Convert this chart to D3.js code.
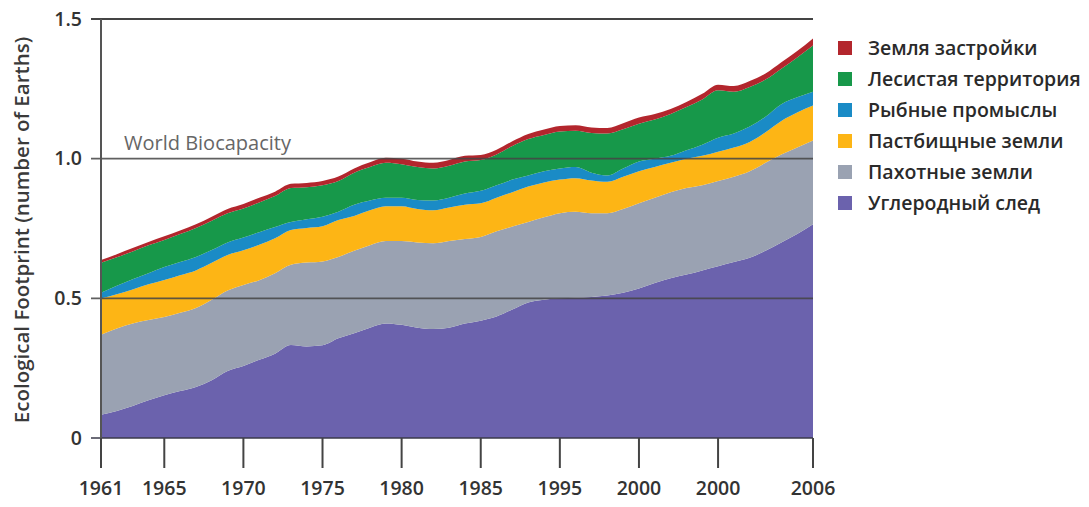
<!DOCTYPE html>
<html>
<head>
<meta charset="utf-8">
<script src="https://cdn.jsdelivr.net/npm/d3@7/dist/d3.min.js"></script>
<style>
  html, body { margin: 0; padding: 0; background: #fff; }
  svg { display: block; }
  text { font-family: "Open Sans", "Noto Sans", sans-serif; }
</style>
</head>
<body>
<svg id="chart" width="1089" height="507"></svg>
<script>
const years = [1961,1962,1963,1964,1965,1966,1967,1968,1969,1970,
               1971,1972,1973,1974,1975,1976,1977,1978,1979,1980,
               1981,1982,1983,1984,1985,1986,1987,1988,1989,1990,
               1991,1992,1993,1994,1995,1996,1997,1998,1999,2000,
               2001,2002,2003,2004,2005,2006];

const carbon = [.083,.097,.115,.135,.153,.168,.183,.207,.240,.258,
                .280,.302,.333,.328,.332,.357,.375,.395,.410,.405,
                .395,.390,.395,.410,.420,.435,.460,.485,.495,.500,
                .502,.505,.510,.520,.535,.555,.572,.585,.600,.615,
                .630,.645,.670,.700,.730,.765];
const cropland = [.287,.295,.295,.287,.280,.280,.282,.288,.288,.290,
                  .285,.288,.287,.300,.300,.291,.295,.295,.295,.300,
                  .305,.307,.310,.302,.300,.305,.297,.288,.295,.305,
                  .308,.300,.295,.300,.305,.305,.308,.310,.305,.305,
                  .305,.310,.315,.315,.310,.300];
const grazing = [.130,.123,.122,.128,.133,.135,.135,.132,.127,.124,
                 .127,.125,.125,.124,.126,.132,.125,.125,.125,.125,
                 .120,.118,.120,.123,.120,.120,.123,.127,.125,.120,
                 .120,.117,.112,.115,.115,.110,.105,.105,.105,.105,
                 .105,.105,.110,.120,.125,.125];
const fishing = [.020,.030,.036,.040,.046,.047,.048,.046,.045,.046,
                 .045,.040,.028,.031,.034,.030,.040,.035,.030,.030,
                 .032,.035,.035,.040,.045,.045,.045,.040,.040,.040,
                 .040,.028,.023,.030,.035,.030,.025,.030,.040,.050,
                 .050,.055,.055,.060,.055,.050];
const forest = [.107,.102,.100,.100,.097,.100,.104,.105,.105,.104,
                .106,.111,.122,.115,.113,.110,.115,.120,.125,.120,
                .118,.115,.115,.115,.110,.110,.120,.130,.130,.132,
                .130,.142,.150,.140,.135,.140,.150,.155,.162,.170,
                .150,.142,.133,.127,.142,.165];
const builtUp = [.010,.011,.012,.012,.013,.013,.013,.014,.015,.016,
                 .017,.016,.015,.015,.015,.016,.015,.017,.018,.020,
                 .020,.020,.020,.020,.018,.017,.017,.018,.019,.020,
                 .020,.020,.020,.022,.022,.020,.018,.018,.020,.020,
                 .020,.021,.022,.023,.023,.025];

const seriesKeys = ["carbon","cropland","grazing","fishing","forest","builtUp"];
const seriesNames = ["Углеродный след","Пахотные земли","Пастбищные земли","Рыбные промыслы","Лесистая территория","Земля застройки"];
const seriesColors = ["#6b62ad","#9aa2b2","#fdb515","#1a8bc6","#17984a","#b3262d"];

const yTickValues = [0, 0.5, 1.0, 1.5];
const yTickLabels = ["0", "0.5", "1.0", "1.5"];
const xTickYears = [1961,1965,1970,1975,1980,1985,1990,1995,2000,2006];
const xTickLabels = ["1961","1965","1970","1975","1980","1985","1995","2000","2000","2006"];

const yTitle = "Ecological Footprint (number of Earths)";
const biocapLabel = "World Biocapacity";

const seriesArrays = {carbon, cropland, grazing, fishing, forest, builtUp};
const table = years.map((yr, i) => {
  const row = {year: yr};
  seriesKeys.forEach(k => row[k] = seriesArrays[k][i]);
  return row;
});

const svg = d3.select("#chart");
const x = d3.scaleLinear().domain([1961, 2006]).range([101, 813]);
const y = d3.scaleLinear().domain([0, 1.5]).range([438, 19]);

const stacked = d3.stack().keys(seriesKeys)(table);
const area = d3.area()
  .x(d => x(d.data.year))
  .y0(d => y(d[0]))
  .y1(d => y(d[1]))
  .curve(d3.curveMonotoneX);

svg.append("g").selectAll("path")
  .data(stacked)
  .join("path")
  .attr("d", area)
  .attr("fill", (d, i) => seriesColors[i]);

// horizontal reference lines
svg.append("g").selectAll("line")
  .data(yTickValues)
  .join("line")
  .attr("x1", x(1961) - 10)
  .attr("x2", x(2006))
  .attr("y1", d => y(d))
  .attr("y2", d => y(d))
  .attr("stroke", d => d === 0 ? "#3a3a4a" : "#444")
  .attr("stroke-width", d => d === 1.5 ? 2 : 1.7)
  .attr("stroke-opacity", d => (d === 0.5 || d === 1.0) ? 0.85 : 1);

// y axis vertical line
svg.append("line")
  .attr("x1", x(1961)).attr("x2", x(1961))
  .attr("y1", y(1.5)).attr("y2", y(0) + 30)
  .attr("stroke", "#555").attr("stroke-width", 2);

// y tick labels
svg.append("g").selectAll("text")
  .data(yTickValues)
  .join("text")
  .attr("x", 82)
  .attr("y", d => y(d))
  .attr("dy", "0.35em")
  .attr("text-anchor", "end")
  .attr("font-size", 19.5)
  .attr("font-weight", 600)
  .attr("fill", "#333")
  .text((d, i) => yTickLabels[i]);

// x ticks
const xg = svg.append("g");
xg.selectAll("line")
  .data(xTickYears)
  .join("line")
  .attr("x1", d => x(d)).attr("x2", d => x(d))
  .attr("y1", y(0)).attr("y2", y(0) + 30)
  .attr("stroke", "#444").attr("stroke-width", 2);
xg.selectAll("text")
  .data(xTickYears)
  .join("text")
  .attr("x", d => x(d))
  .attr("y", y(0) + 50)
  .attr("dy", "0.35em")
  .attr("text-anchor", "middle")
  .attr("font-size", 19.5)
  .attr("font-weight", 600)
  .attr("fill", "#333")
  .text((d, i) => xTickLabels[i]);

// y title
svg.append("text")
  .attr("transform", `translate(22, 230) rotate(-90)`)
  .attr("text-anchor", "middle")
  .attr("dy", "0.35em")
  .attr("font-size", 20.5)
  .attr("font-weight", 600)
  .attr("fill", "#3a3a3a")
  .text(yTitle);

// biocapacity label
svg.append("text")
  .attr("x", 124)
  .attr("y", y(1.0) - 9)
  .attr("font-size", 20)
  .attr("fill", "#666")
  .text(biocapLabel);

// legend (top to bottom: reverse of stack order)
const legendOrder = seriesKeys.map((k, i) => i).reverse();
const lg = svg.append("g");
legendOrder.forEach((si, row) => {
  const cy = 48 + row * 31;
  lg.append("rect")
    .attr("x", 838).attr("y", cy - 7)
    .attr("width", 14).attr("height", 14)
    .attr("fill", seriesColors[si]);
  lg.append("text")
    .attr("x", 868).attr("y", cy)
    .attr("dy", "0.35em")
    .attr("font-size", 19.5)
    .attr("font-weight", 600)
    .attr("fill", "#2a2a2a")
    .text(seriesNames[si]);
});
</script>
</body>
</html>
